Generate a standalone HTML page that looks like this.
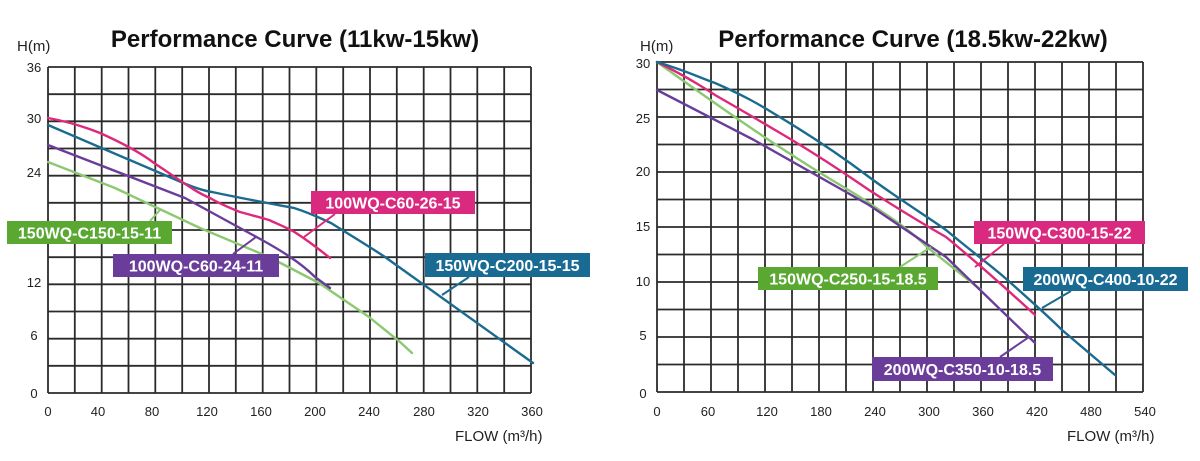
<!DOCTYPE html>
<html><head><meta charset="utf-8"><style>
html,body{margin:0;padding:0;background:#fff;}
svg{display:block;}
text{font-family:"Liberation Sans",sans-serif;}
</style></head><body>
<svg width="1200" height="461" viewBox="0 0 1200 461" xmlns="http://www.w3.org/2000/svg">
<rect width="1200" height="461" fill="#fff"/>
<g id="grids" stroke="#2b2b2b" stroke-width="1.8" fill="none">
<path d="M48,67V393M74.8,67V393M101.7,67V393M128.5,67V393M155.3,67V393M182.2,67V393M209,67V393M235.8,67V393M262.7,67V393M289.5,67V393M316.3,67V393M343.2,67V393M370,67V393M396.8,67V393M423.7,67V393M450.5,67V393M477.3,67V393M504.2,67V393M531,67V393"/>
<path d="M48,67H531M48,94.2H531M48,121.3H531M48,148.5H531M48,175.7H531M48,202.8H531M48,230H531M48,257.2H531M48,284.3H531M48,311.5H531M48,338.7H531M48,365.8H531M48,393H531"/>
<path d="M657,62V392M684,62V392M711,62V392M738,62V392M765,62V392M792,62V392M819,62V392M846,62V392M873,62V392M900,62V392M927,62V392M954,62V392M981,62V392M1008,62V392M1035,62V392M1062,62V392M1089,62V392M1116,62V392M1143,62V392"/>
<path d="M657,62H1143M657,89.5H1143M657,117H1143M657,144.5H1143M657,172H1143M657,199.5H1143M657,227H1143M657,254.5H1143M657,282H1143M657,309.5H1143M657,337H1143M657,364.5H1143M657,392H1143"/>
</g>
<g font-size="24" font-weight="bold" fill="#111" text-anchor="middle">
<text x="295" y="47">Performance Curve (11kw-15kw)</text>
<text x="913" y="47">Performance Curve (18.5kw-22kw)</text>
</g>
<g font-size="15" fill="#222">
<text x="17" y="51">H(m)</text>
<text x="640" y="51">H(m)</text>
<text x="455" y="441">FLOW (m³/h)</text>
<text x="1067" y="441">FLOW (m³/h)</text>
</g>
<g font-size="13" fill="#222" text-anchor="middle">
<text x="34" y="72">36</text><text x="34" y="123">30</text><text x="34" y="177">24</text><text x="34" y="287">12</text><text x="34" y="340">6</text><text x="34" y="398">0</text>
<text x="48" y="416">0</text><text x="98" y="416">40</text><text x="152" y="416">80</text><text x="207" y="416">120</text><text x="261" y="416">160</text><text x="315" y="416">200</text><text x="369" y="416">240</text><text x="424" y="416">280</text><text x="478" y="416">320</text><text x="532" y="416">360</text>
<text x="643" y="68">30</text><text x="643" y="123">25</text><text x="643" y="176">20</text><text x="643" y="231">15</text><text x="643" y="286">10</text><text x="643" y="340">5</text><text x="643" y="398">0</text>
<text x="657" y="416">0</text><text x="708" y="416">60</text><text x="767" y="416">120</text><text x="821" y="416">180</text><text x="875" y="416">240</text><text x="929" y="416">300</text><text x="983" y="416">360</text><text x="1037" y="416">420</text><text x="1091" y="416">480</text><text x="1145" y="416">540</text>
</g>
<g fill="none" stroke-width="2.4" stroke-linecap="round" stroke-linejoin="round">
<path stroke="#8cc870" d="M48,162 L115,188 L200,228 L269,257 L319,283 L369,317 L400,342 L412,353"/>
<path stroke="#6a3d9a" d="M48,145 L185,198 L262,240 C280,250 300,262 315,277 L330,288"/>
<path stroke="#1a6b8f" d="M48,125 L181,182 C195,188 205,191 212,192 C240,198 262,202 294,208 C310,213 320,218 331,223 C350,235 370,247 385,257 L533,363"/>
<path stroke="#e0287a" d="M48,118 C70,122 85,127 100,133 C120,142 140,152 154,163 C180,180 195,192 210,198 C220,204 230,208 240,212 C255,216 262,218 269,220 C280,225 290,229 296,233 C310,242 320,250 330,258"/>
<path stroke="#8cc870" d="M657,62 C700,93 760,135 792,155 C830,180 850,190 869,203 C890,217 910,230 927,247 L981,290"/>
<path stroke="#6a3d9a" d="M657,90 L754,140 L869,205 L946,257 L1035,343"/>
<path stroke="#e0287a" d="M657,62 C690,78 715,95 715,95 C750,115 775,130 792,140 C830,163 850,177 869,190 C900,210 925,225 946,237 C980,265 1010,292 1035,315"/>
<path stroke="#1a6b8f" d="M657,62 C690,72 700,78 715,83 C745,96 760,105 773,113 C810,135 840,155 869,177 C900,200 925,215 946,230 C970,250 990,265 1004,277 C1030,300 1050,318 1062,330 L1115,375"/>
</g>
<g stroke-width="2" fill="none">
<path stroke="#8cc870" d="M150,221 L160,210"/>
<path stroke="#e0287a" d="M304,237 L335,214"/>
<path stroke="#6a3d9a" d="M233,254 L256,237"/>
<path stroke="#1a6b8f" d="M442,295 L469,277"/>
<path stroke="#e0287a" d="M975,267 L1004,244"/>
<path stroke="#8cc870" d="M900,267 L931,247"/>
<path stroke="#1a6b8f" d="M1042,308 L1071,291"/>
<path stroke="#6a3d9a" d="M1000,357 L1029,337"/>
</g>
<g font-size="16" font-weight="bold" fill="#fff" text-anchor="middle">
<rect x="7" y="221" width="165" height="23" fill="#5aa832"/><text x="89.5" y="238.5">150WQ-C150-15-11</text>
<rect x="311" y="191" width="164" height="23" fill="#d92a80"/><text x="393" y="208.5">100WQ-C60-26-15</text>
<rect x="113" y="254" width="166" height="23" fill="#6a3d9a"/><text x="196" y="271.5">100WQ-C60-24-11</text>
<rect x="425" y="253" width="165" height="24" fill="#1a6b94"/><text x="507.5" y="271">150WQ-C200-15-15</text>
<rect x="974" y="221" width="171" height="23" fill="#d92a80"/><text x="1059.5" y="238.5">150WQ-C300-15-22</text>
<rect x="758" y="267" width="180" height="23" fill="#5aa832"/><text x="848" y="284.5">150WQ-C250-15-18.5</text>
<rect x="1023" y="267" width="165" height="24" fill="#1a6b94"/><text x="1105.5" y="285">200WQ-C400-10-22</text>
<rect x="872" y="357" width="181" height="24" fill="#6a3d9a"/><text x="962.5" y="375">200WQ-C350-10-18.5</text>
</g>
</svg>
</body></html>
